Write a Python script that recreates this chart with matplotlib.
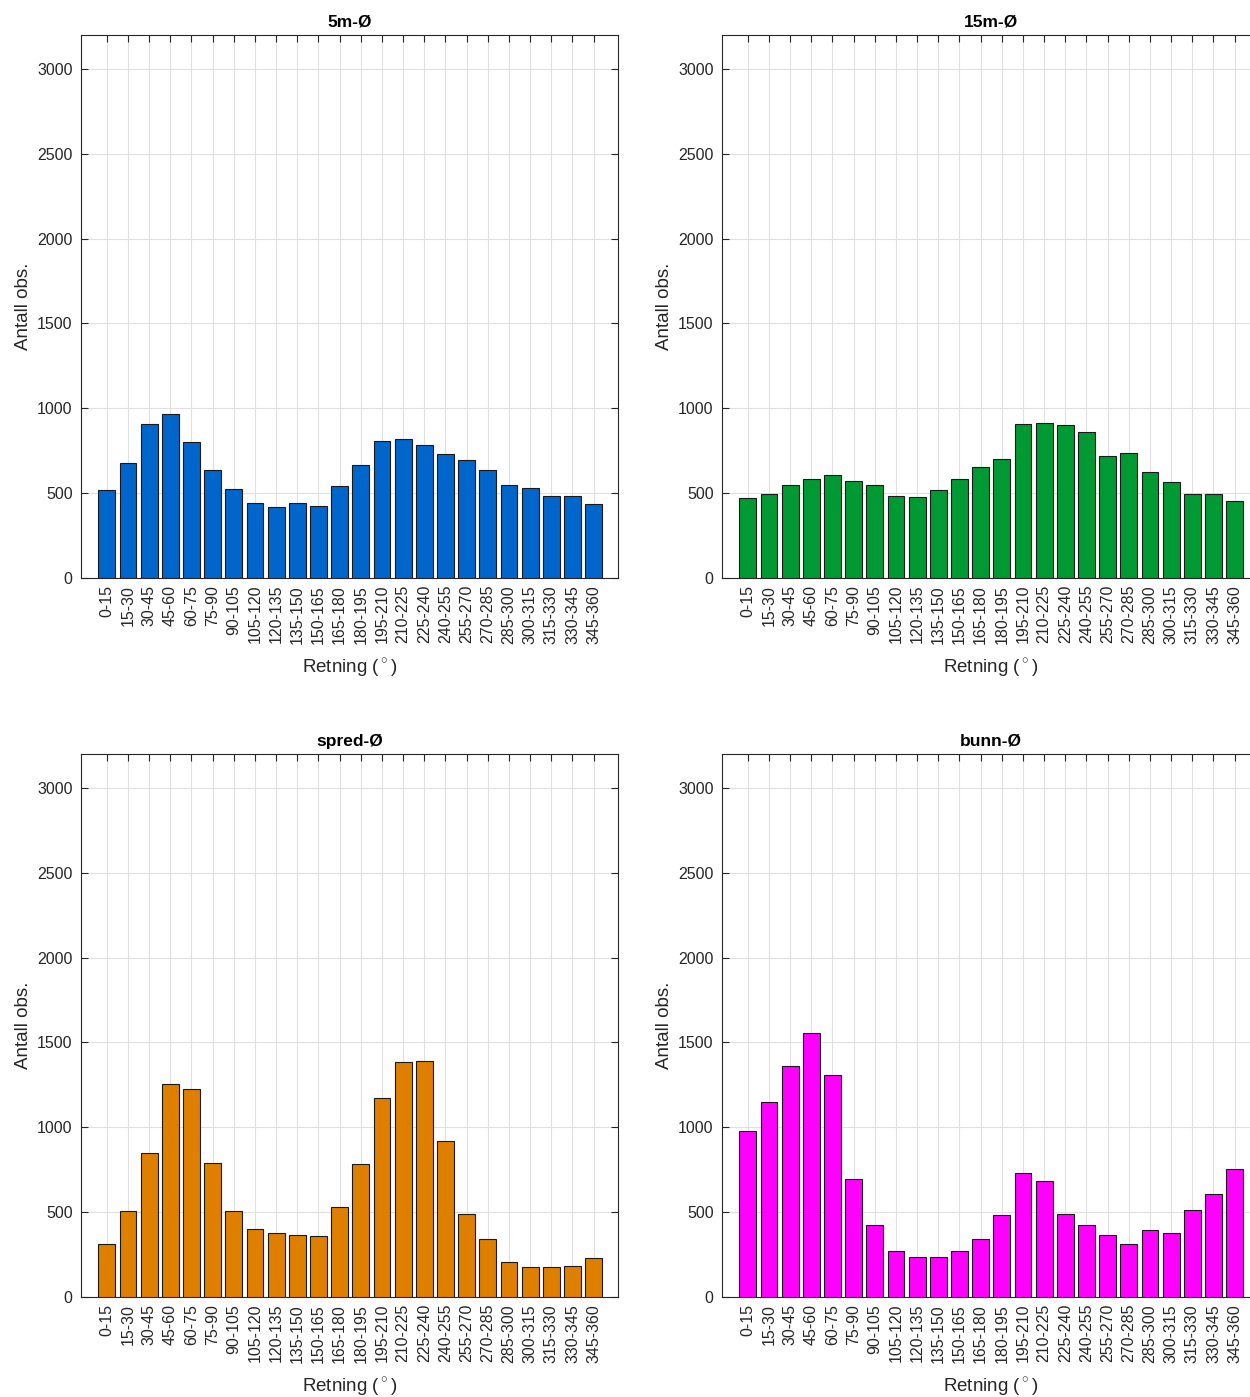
import numpy as np
import matplotlib
matplotlib.use("Agg")
import matplotlib.pyplot as plt

plt.rcParams['font.family'] = ['Liberation Sans', 'DejaVu Sans']
plt.rcParams['mathtext.fontset'] = 'custom'
plt.rcParams['mathtext.rm'] = 'Liberation Sans'

sectors = ['0-15', '15-30', '30-45', '45-60', '60-75', '75-90', '90-105',
           '105-120', '120-135', '135-150', '150-165', '165-180', '180-195',
           '195-210', '210-225', '225-240', '240-255', '255-270', '270-285',
           '285-300', '300-315', '315-330', '330-345', '345-360']

obs_5m = [517, 680, 906, 965, 800, 638, 523, 440, 420, 440, 426, 540,
          664, 807, 817, 782, 731, 693, 635, 550, 532, 481, 485, 434]
obs_15m = [471, 497, 550, 582, 609, 570, 550, 485, 475, 517, 582, 656,
           701, 906, 912, 902, 859, 721, 735, 623, 564, 497, 493, 452]
obs_spred = [315, 505, 847, 1257, 1226, 792, 508, 402, 376, 365, 357, 528,
             782, 1173, 1385, 1393, 922, 491, 343, 209, 175, 175, 181, 227]
obs_bunn = [977, 1149, 1362, 1557, 1310, 694, 426, 270, 233, 236, 270, 339,
            481, 731, 682, 492, 422, 365, 311, 392, 380, 510, 607, 755]

titles = ['5m-Ø', '15m-Ø', 'spred-Ø', 'bunn-Ø']
colors = ['#0066cc', '#009933', '#df7f00', '#ff00ff']
series = [obs_5m, obs_15m, obs_spred, obs_bunn]

W, H = 1250, 1397
fig = plt.figure(figsize=(W / 100, H / 100), dpi=100)

# axes boxes in pixels: left, top, width, height
boxes = [(81, 35, 537, 543), (722, 35, 537, 543),
         (81, 754, 537, 543), (722, 754, 537, 543)]

x = np.arange(1, len(sectors) + 1)
for box, title, color, vals in zip(boxes, titles, colors, series):
    l, t, w, h = box
    ax = fig.add_axes([l / W, 1 - (t + h) / H, w / W, h / H])
    ax.bar(x, vals, width=0.8, color=color, edgecolor='#1a1a1a', linewidth=0.8, zorder=3)
    ax.set_xlim(-0.22, 25.15)
    ax.set_ylim(0, 3200)
    ax.set_xticks(x)
    ax.set_xticklabels(sectors, rotation=90, fontsize=11.5, color='#262626')
    ax.set_yticks([0, 500, 1000, 1500, 2000, 2500, 3000])
    ax.tick_params(axis='y', labelsize=11.5, labelcolor='#262626', pad=6)
    ax.tick_params(axis='x', pad=5)
    ax.tick_params(direction='in', top=True, right=True, length=5,
                   color='#262626', width=0.8)
    ax.grid(True, color='#e0e0e0', linewidth=0.8, zorder=0)
    ax.set_axisbelow(True)
    for s in ax.spines.values():
        s.set_color('#262626')
        s.set_linewidth(0.8)
    ax.set_title(title, fontsize=12.5, fontweight='bold', color='#000000', pad=6)
    ax.set_xlabel(r'Retning ($^\circ$)', fontsize=13.5, color='#262626', labelpad=9)
    ax.set_ylabel('Antall obs.', fontsize=13.5, color='#262626', labelpad=4)

fig.savefig('out.png', dpi=100)
